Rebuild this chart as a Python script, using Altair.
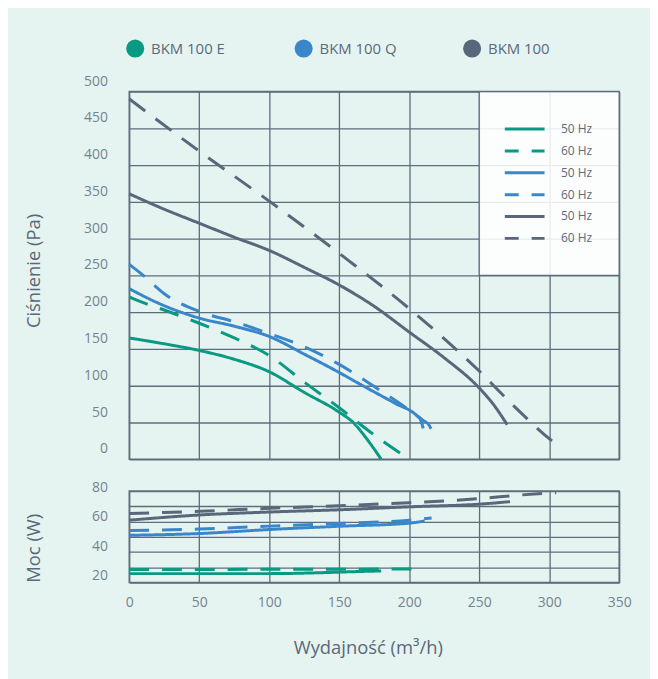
import altair as alt
import pandas as pd

# ---------------- categories ----------------
models = ["BKM 100 E", "BKM 100 Q", "BKM 100"]
series = ["BKM 100 E 50 Hz", "BKM 100 E 60 Hz",
          "BKM 100 Q 50 Hz", "BKM 100 Q 60 Hz",
          "BKM 100 50 Hz", "BKM 100 60 Hz"]
series_model = ["BKM 100 E", "BKM 100 E", "BKM 100 Q", "BKM 100 Q", "BKM 100", "BKM 100"]

# ---------------- pressure curves (Pa) ----------------
p_e50_x = [0, 25, 50, 75, 100, 125, 150, 160, 170, 180]
p_e50_y = [165, 157, 148, 136, 119, 91, 64, 50, 27, 0]
p_e60_x = [0, 10, 25, 50, 75, 100, 125, 150, 175, 200]
p_e60_y = [221, 213, 203, 185, 165, 141, 105, 70, 33, 0]
p_q50_x = [0, 20, 50, 75, 100, 125, 150, 165, 190, 205, 208, 210]
p_q50_y = [232, 213, 192, 181, 167, 143, 118, 102, 76, 60, 54, 42]
p_q60_x = [0, 10, 25, 50, 75, 100, 125, 150, 175, 200, 210, 214, 216]
p_q60_y = [265, 250, 225, 201, 187, 171, 153, 129, 99, 67, 53, 47, 40]
p_b50_x = [0, 25, 50, 75, 100, 125, 150, 175, 200, 225, 250, 260, 270]
p_b50_y = [361, 340, 321, 302, 284, 261, 237, 208, 173, 138, 97, 75, 47]
p_b60_x = [0, 50, 100, 150, 200, 250, 275, 300, 306]
p_b60_y = [490, 419, 351, 280, 205, 120, 72, 28, 19]

# ---------------- power curves (W) ----------------
w_e50_x = [0, 50, 100, 140, 160, 180]
w_e50_y = [21.5, 21.5, 21.5, 22.2, 22.8, 23.3]
w_e60_x = [0, 100, 205]
w_e60_y = [24.2, 24.4, 24.6]
w_q50_x = [0, 50, 100, 150, 200, 211]
w_q50_y = [47.3, 48.5, 51.2, 53.4, 55.5, 57]
w_q60_x = [0, 50, 100, 150, 200, 216]
w_q60_y = [50.6, 51.5, 53.5, 55.3, 57.5, 59]
w_b50_x = [0, 50, 100, 150, 200, 250, 272]
w_b50_y = [57.5, 61, 63, 64.5, 66.5, 68.3, 70]
w_b60_x = [0, 50, 100, 150, 200, 250, 280, 305]
w_b60_y = [62, 63.5, 65.5, 67.3, 69.3, 72, 74.5, 76]

# ---------------- axes ticks ----------------
x_ticks = [0, 50, 100, 150, 200, 250, 300, 350]
p_ticks = [0, 50, 100, 150, 200, 250, 300, 350, 400, 450, 500]
w_grid = [15.5, 25.77, 36.03, 46.3, 56.57, 66.83, 77.1]
w_labels = [20, 40, 60]

# legend panel extent (data units)
box_x = [250, 350]
box_y = [250, 500]

# ---------------- styles ----------------
green, blue, gray = "#0a9983", "#3a86cb", "#586779"
series_colors = [green, green, blue, blue, gray, gray]
model_colors = [green, blue, gray]
series_dash = [[1, 0], [20, 13], [1, 0], [20, 13], [1, 0], [20, 13]]
grid_c = "#5e6d7e"
label_c = "#74838f"
title_c = "#5a6978"
FONT = "Open Sans"


def build(xs_list, ys_list):
    rows = []
    for s, m, xs, ys in zip(series, series_model, xs_list, ys_list):
        for a, b in zip(xs, ys):
            rows.append({"series": s, "model": m, "x": a, "y": b})
    return pd.DataFrame(rows)


df_p = build([p_e50_x, p_e60_x, p_q50_x, p_q60_x, p_b50_x, p_b60_x],
             [p_e50_y, p_e60_y, p_q50_y, p_q60_y, p_b50_y, p_b60_y])
df_w = build([w_e50_x, w_e60_x, w_q50_x, w_q60_x, w_b50_x, w_b60_x],
             [w_e50_y, w_e60_y, w_q50_y, w_q60_y, w_b50_y, w_b60_y])
df_box = pd.DataFrame({"x": [box_x[0]], "x2": [box_x[1]], "y": [box_y[0]], "y2": [box_y[1]]})

x_scale = alt.Scale(domain=[0, 350], nice=False, zero=False)
color_scale = alt.Scale(domain=series, range=series_colors)
dash_scale = alt.Scale(domain=series, range=series_dash)

series_legend = alt.Legend(
    orient="none", legendX=376.4, legendY=27.7, direction="vertical", title=None,
    symbolType="stroke", symbolSize=1600, symbolStrokeWidth=3, symbolDashOffset=6,
    labelOffset=15, clipHeight=20, rowPadding=2, labelFontSize=12, labelColor="#5a6a7b",
    labelFont=FONT, padding=0, labelExpr="slice(datum.label, -5)",
)

# ---------------- upper panel ----------------
x_axis_up = alt.Axis(values=x_ticks, labels=False, ticks=False, domain=False, grid=True, title=None)
y_axis_up = alt.Axis(values=p_ticks, ticks=False, domain=False, grid=True, labelOffset=-10.5,
                     labelPadding=22, labelFlush=False, labelOverlap=False,
                     title="Ciśnienie (Pa)", titleX=-96, titleY=180,
                     titleBaseline="middle", titleAlign="center")
y_scale_up = alt.Scale(domain=[0, 500], nice=False, zero=False)

box = alt.Chart(df_box).mark_rect(fill="white", fillOpacity=0.87, stroke=grid_c, strokeWidth=1.3).encode(
    x=alt.X("x:Q", scale=x_scale, axis=x_axis_up),
    x2="x2:Q",
    y=alt.Y("y:Q", scale=y_scale_up, axis=y_axis_up),
    y2="y2:Q",
)

lines_up = alt.Chart(df_p).mark_line(interpolate="monotone", strokeWidth=3, strokeCap="butt").encode(
    x=alt.X("x:Q", scale=x_scale, axis=x_axis_up),
    y=alt.Y("y:Q", scale=y_scale_up, axis=y_axis_up),
    color=alt.Color("series:N", scale=color_scale, legend=series_legend),
    strokeDash=alt.StrokeDash("series:N", scale=dash_scale, legend=series_legend),
)

model_pts = alt.Chart(df_p).mark_point(filled=True, opacity=0).encode(
    x=alt.X("x:Q", scale=x_scale, axis=x_axis_up),
    y=alt.Y("y:Q", scale=y_scale_up, axis=y_axis_up),
    fill=alt.Fill("model:N", scale=alt.Scale(domain=models, range=model_colors),
                  legend=alt.Legend(orient="none", legendX=-3.5, legendY=-53, direction="horizontal",
                                    title=None, symbolType="circle", symbolSize=330, symbolOpacity=1,
                                    symbolStrokeWidth=0, labelFontSize=15, labelColor="#5a6a7b",
                                    labelFont=FONT, labelOffset=6.5, columnPadding=65.5,
                                    gridAlign="all", padding=0)),
)

upper = alt.layer(box, lines_up, model_pts).properties(width=493, height=370)

# ---------------- lower panel ----------------
x_axis_low = alt.Axis(values=x_ticks, ticks=False, domain=False, grid=True, labelPadding=13,
                      labelFlush=False, labelOverlap=False,
                      title="Wydajność (m³/h)", titleX=240, titleY=65, titleBaseline="middle",
                      titleAlign="center")
label_test = "datum.value == 20 || datum.value == 40 || datum.value == 60"
y_axis_low = alt.Axis(
    values=sorted(w_grid + w_labels), ticks=False, domain=False, grid=True,
    labelPadding=22, labelFlush=False, labelOverlap=False,
    labelExpr="(" + label_test + ") ? datum.label : (datum.value > 77 ? '80' : '')",
    gridOpacity={"condition": {"test": label_test, "value": 0}, "value": 1},
    labelOffset={"condition": {"test": "datum.value > 77", "value": -4}, "value": 0},
    title="Moc (W)", titleX=-96, titleY=57, titleBaseline="middle", titleAlign="center",
)

lower = alt.Chart(df_w).mark_line(interpolate="monotone", strokeWidth=3, strokeCap="butt").encode(
    x=alt.X("x:Q", scale=x_scale, axis=x_axis_low),
    y=alt.Y("y:Q", scale=alt.Scale(domain=[15.5, 77.1], nice=False, zero=False), axis=y_axis_low),
    color=alt.Color("series:N", scale=color_scale, legend=None),
    strokeDash=alt.StrokeDash("series:N", scale=dash_scale, legend=None),
).properties(width=493, height=92)

chart = alt.vconcat(upper, lower, spacing=13).properties(
    background="#e6f4f1",
    padding={"left": 16, "top": 29, "right": 18, "bottom": 23},
).configure_view(
    stroke=grid_c, strokeWidth=1.5
).configure_axis(
    gridColor=grid_c, gridWidth=1.3, labelColor=label_c, labelFontSize=14, labelFont=FONT,
    titleColor=title_c, titleFontSize=18.5, titleFontWeight="normal", titleFont=FONT,
).configure_legend(labelFont=FONT)

chart.save("out.html", embed_options={"renderer": "svg", "actions": False})
